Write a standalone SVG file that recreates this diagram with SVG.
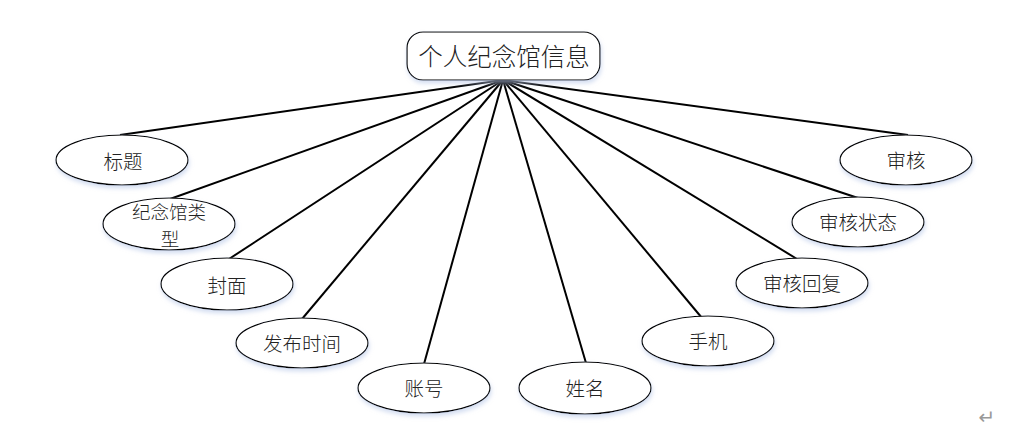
<svg xmlns="http://www.w3.org/2000/svg" width="1011" height="435" viewBox="0 0 1011 435">
<defs>
<filter id="sh" x="-20%" y="-20%" width="140%" height="150%">
<feGaussianBlur in="SourceAlpha" stdDeviation="2"/>
<feOffset dx="1" dy="3" result="b"/>
<feFlood flood-color="#b8c8e8" flood-opacity="0.6"/>
<feComposite in2="b" operator="in"/>
<feMerge><feMergeNode/><feMergeNode in="SourceGraphic"/></feMerge>
</filter>
<style>
.e{fill:#fff;stroke:#000;stroke-width:1.2;filter:url(#sh)}
.t{font-family:"Noto Sans CJK SC",sans-serif;font-size:19.5px;fill:#222;text-anchor:middle;dominant-baseline:central;font-weight:300}
.s{font-size:18.5px}
.c{stroke:#000;stroke-width:2;fill:none}
</style>
</defs>
<rect width="1011" height="435" fill="#fff"/>
<g id="connectors">
<line class="c" x1="503" y1="80" x2="120" y2="135"/>
<line class="c" x1="503" y1="80" x2="170" y2="199"/>
<line class="c" x1="503" y1="80" x2="229" y2="259"/>
<line class="c" x1="503" y1="80" x2="302" y2="319"/>
<line class="c" x1="503" y1="80" x2="424" y2="364"/>
<line class="c" x1="503" y1="80" x2="586" y2="363"/>
<line class="c" x1="503" y1="80" x2="702" y2="318"/>
<line class="c" x1="503" y1="80" x2="797" y2="259"/>
<line class="c" x1="503" y1="80" x2="858" y2="198"/>
<line class="c" x1="503" y1="80" x2="908" y2="135"/>
</g>
<g id="root">
<rect x="407" y="32" width="193" height="48" rx="16" fill="#fff" stroke="#000" stroke-width="1.2" filter="url(#sh)"/>
<text class="t" x="504" y="55" style="font-size:24.5px">个人纪念馆信息</text>
</g>
<g id="n-title"><ellipse class="e" cx="122" cy="160" rx="66" ry="25"/><text class="t" x="123" y="160">标题</text></g>
<g id="n-type"><ellipse class="e" cx="169" cy="224" rx="66" ry="26"/><text class="t s" x="169" y="211">纪念馆类</text><text class="t s" x="170" y="238">型</text></g>
<g id="n-cover"><ellipse class="e" cx="227" cy="284" rx="66" ry="26"/><text class="t" x="227" y="284">封面</text></g>
<g id="n-time"><ellipse class="e" cx="302" cy="343" rx="66" ry="25"/><text class="t" x="302" y="342">发布时间</text></g>
<g id="n-account"><ellipse class="e" cx="424" cy="388" rx="66" ry="25"/><text class="t" x="424" y="387">账号</text></g>
<g id="n-name"><ellipse class="e" cx="585" cy="388" rx="66" ry="26"/><text class="t" x="585" y="387">姓名</text></g>
<g id="n-phone"><ellipse class="e" cx="708" cy="341" rx="66" ry="25"/><text class="t" x="708" y="340">手机</text></g>
<g id="n-reply"><ellipse class="e" cx="802" cy="283" rx="66" ry="25"/><text class="t" x="802" y="282">审核回复</text></g>
<g id="n-status"><ellipse class="e" cx="858" cy="222" rx="66" ry="25"/><text class="t" x="858" y="221">审核状态</text></g>
<g id="n-audit"><ellipse class="e" cx="906" cy="160" rx="66" ry="25"/><text class="t" x="906" y="159">审核</text></g>
<text x="987" y="417" font-family="DejaVu Sans, sans-serif" font-size="20" fill="#999" text-anchor="middle" dominant-baseline="central">↵</text>
</svg>
